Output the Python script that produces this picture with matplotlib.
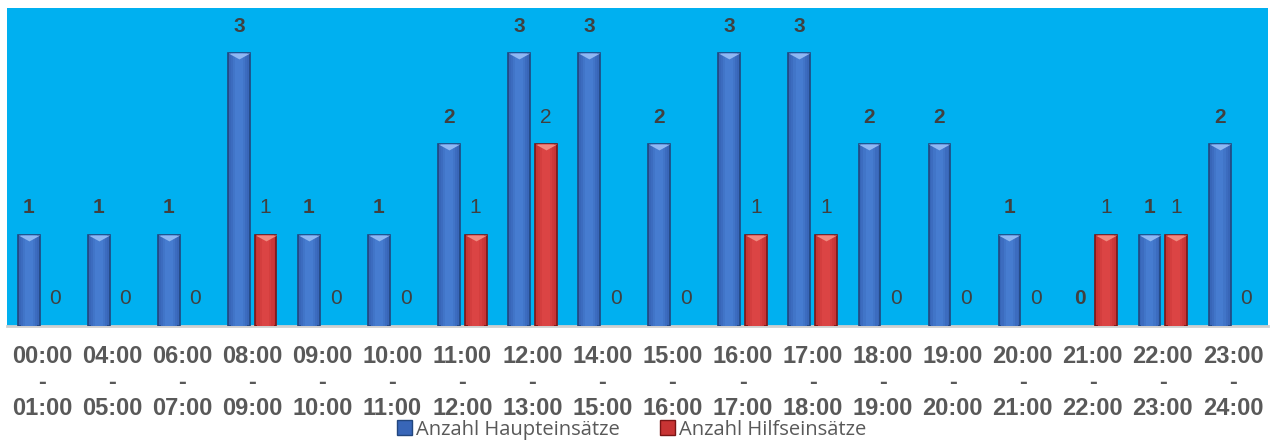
import matplotlib
matplotlib.use("Agg")
import matplotlib.pyplot as plt
import numpy as np
from matplotlib.patches import Patch
from matplotlib.path import Path

categories = ["00:00\n-\n01:00", "04:00\n-\n05:00", "06:00\n-\n07:00", "08:00\n-\n09:00",
              "09:00\n-\n10:00", "10:00\n-\n11:00", "11:00\n-\n12:00", "12:00\n-\n13:00",
              "14:00\n-\n15:00", "15:00\n-\n16:00", "16:00\n-\n17:00", "17:00\n-\n18:00",
              "18:00\n-\n19:00", "19:00\n-\n20:00", "20:00\n-\n21:00", "21:00\n-\n22:00",
              "22:00\n-\n23:00", "23:00\n-\n24:00"]
haupt = [1, 1, 1, 3, 1, 1, 2, 3, 3, 2, 3, 3, 2, 2, 1, 0, 1, 2]
hilfe = [0, 0, 0, 1, 0, 0, 1, 2, 0, 0, 1, 1, 0, 0, 0, 1, 1, 0]
series_names = ["Anzahl Haupteinsätze", "Anzahl Hilfseinsätze"]

plt.rcParams['font.family'] = ['Liberation Sans', 'DejaVu Sans']

fig = plt.figure(figsize=(12.78, 4.41), dpi=100)
ax = fig.add_axes([7/1278, (441-326)/441, (1268-7)/1278, (326-8)/441])
ax.set_facecolor('#00B0F0')

x = np.arange(len(categories))
w = 0.31
off = 0.19

blue_face, blue_edge, blue_tri = '#3866B8', '#22467E', '#8FB8F2'
red_face, red_edge, red_tri = '#C83434', '#7A1515', '#F08A80'
blue_bands = ['#3C6CBF', '#4175C8', '#467CD0']
red_bands = ['#CC3838', '#D43E3E', '#DB4444']

hb = np.array(haupt); hr = np.array(hilfe)
mb = hb > 0; mr = hr > 0

ax.bar((x - off)[mb], hb[mb], w, color=blue_face, edgecolor=blue_edge, linewidth=1.2, zorder=3)
ax.bar((x + off)[mr], hr[mr], w, color=red_face, edgecolor=red_edge, linewidth=1.2, zorder=3)
# lighter centre bands for a rounded look
for i, (cb, cr) in enumerate(zip(blue_bands, red_bands)):
    frac = 0.75 - 0.2 * i
    ax.bar((x - off)[mb], hb[mb], w * frac, color=cb, linewidth=0, zorder=3.2 + 0.1 * i)
    ax.bar((x + off)[mr], hr[mr], w * frac, color=cr, linewidth=0, zorder=3.2 + 0.1 * i)

tri = Path([(-1, 0), (1, 0), (0, -0.55), (-1, 0)],
           [Path.MOVETO, Path.LINETO, Path.LINETO, Path.CLOSEPOLY])
ax.plot((x - off)[mb], hb[mb], linestyle='none', marker=tri, markersize=15.5,
        color=blue_tri, markeredgewidth=0, zorder=4)
ax.plot((x + off)[mr], hr[mr], linestyle='none', marker=tri, markersize=15.5,
        color=red_tri, markeredgewidth=0, zorder=4)

for xi, v in zip(x, haupt):
    ax.text(xi - off, v + 0.3, str(v), ha='center', va='center', fontsize=15,
            fontweight='bold', color='#404040', zorder=5)
for xi, v in zip(x, hilfe):
    ax.text(xi + off, v + 0.3, str(v), ha='center', va='center', fontsize=15,
            color='#404040', zorder=5)

ax.set_xlim(-0.5, len(categories) - 0.5)
ax.set_ylim(0, 3.5)
ax.set_yticks([])
ax.set_xticks(x)
ax.set_xticklabels(categories, fontsize=17, fontweight='bold', color='#595959',
                   linespacing=1.15)
ax.tick_params(axis='x', length=0, pad=14)
for s in ['top', 'left', 'right']:
    ax.spines[s].set_visible(False)
ax.spines['bottom'].set_color('#D0D0D0')
ax.spines['bottom'].set_linewidth(2)

handles = [Patch(facecolor=blue_face, edgecolor=blue_edge), Patch(facecolor=red_face, edgecolor=red_edge)]
fig.legend(handles, series_names, loc='center', bbox_to_anchor=(0.494, 0.026), ncol=2,
           frameon=False, handlelength=0.75, handleheight=0.75,
           handletextpad=0.2, columnspacing=2.0, labelcolor='#595959',
           prop={'family': ['Open Sans', 'DejaVu Sans'], 'size': 14.5})

fig.savefig('out.png', dpi=100)
